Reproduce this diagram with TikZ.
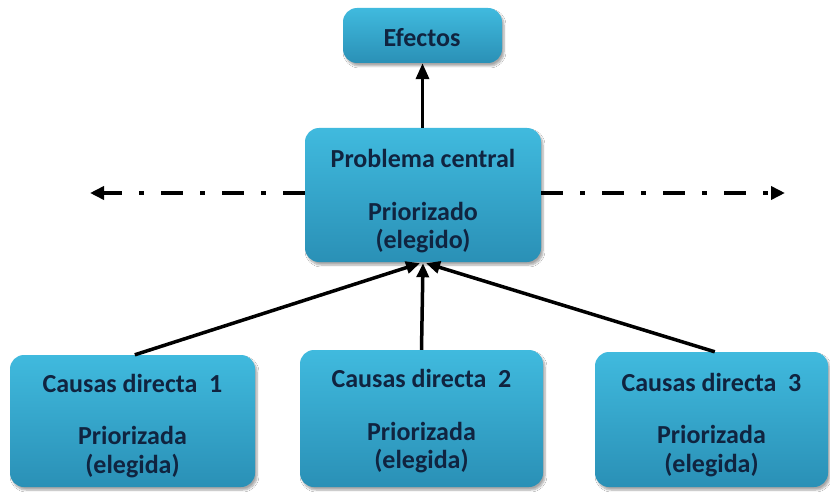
\documentclass[tikz,border=0pt]{standalone}
\usepackage{fontspec}
\setmainfont{Carlito}
\usetikzlibrary{arrows.meta,shadows.blur}
\definecolor{txtc}{RGB}{16,36,64}
\definecolor{boxtop}{RGB}{64,186,222}
\definecolor{boxbot}{RGB}{42,144,182}
\tikzset{
  box/.style={rectangle, rounded corners=14pt, top color=boxtop, bottom color=boxbot,
    draw=none, blur shadow={shadow xshift=2pt, shadow yshift=-3pt, shadow blur steps=6, shadow opacity=35}},
  txt/.style={align=center, inner sep=0pt, text=txtc, font=\fontsize{26}{28.5}\selectfont\bfseries},
  conn/.style={line width=3.5pt, -{Triangle[length=14pt,width=12pt]}},
  dd/.style={line width=4.5pt, dash pattern=on 22pt off 17pt on 5pt off 17pt, -{Triangle[length=14pt,width=13pt]}},
}
\begin{document}
\begin{tikzpicture}[x=1pt,y=-1pt]
\useasboundingbox[fill=white] (0,0) rectangle (830,492);
% boxes
\node[box, minimum width=159pt, minimum height=55pt] (ef) at (422.5,35.5) {};
\node[box, minimum width=236pt, minimum height=134pt] (pc) at (423,195) {};
\node[box, minimum width=245pt, minimum height=132pt] (c1) at (132.5,421) {};
\node[box, minimum width=243pt, minimum height=137pt] (c2) at (421.5,418.5) {};
\node[box, minimum width=233pt, minimum height=135pt] (c3) at (711.5,419.5) {};
% texts
\node[txt] (tef) at (422,38) {Efectos};
\node[txt] (tpc) at (423,201.5) {Problema central\\[24pt]Priorizado\\(elegido)};
\node[txt] (tc1) at (132.5,426) {Causas directa\ \ 1\\[24pt]Priorizada\\(elegida)};
\node[txt] (tc2) at (421.5,421.5) {Causas directa\ \ 2\\[24pt]Priorizada\\(elegida)};
\node[txt] (tc3) at (711.5,425) {Causas directa\ \ 3\\[24pt]Priorizada\\(elegida)};
% coordinates
\coordinate (lt) at (90,193);
\coordinate (rt) at (785,193);
% connectors
\draw[line width=3.5pt, -{Triangle[length=16pt,width=13pt]}] (pc.north -| ef.south) -- (ef.south);
\draw[conn] (c1.north west) ++(125,0) coordinate (c1s) -- ([xshift=-3pt,yshift=-1pt]pc.south);
\draw[conn] (c2.north) -- ([yshift=-1pt]pc.south);
\draw[conn] (c3.north west) ++(120,0) coordinate (c3s) -- ([xshift=3pt,yshift=-1pt]pc.south);
\draw[dd] (pc.west |- lt) -- (lt);
\draw[dd] (pc.east |- rt) -- (rt);
\end{tikzpicture}
\end{document}
